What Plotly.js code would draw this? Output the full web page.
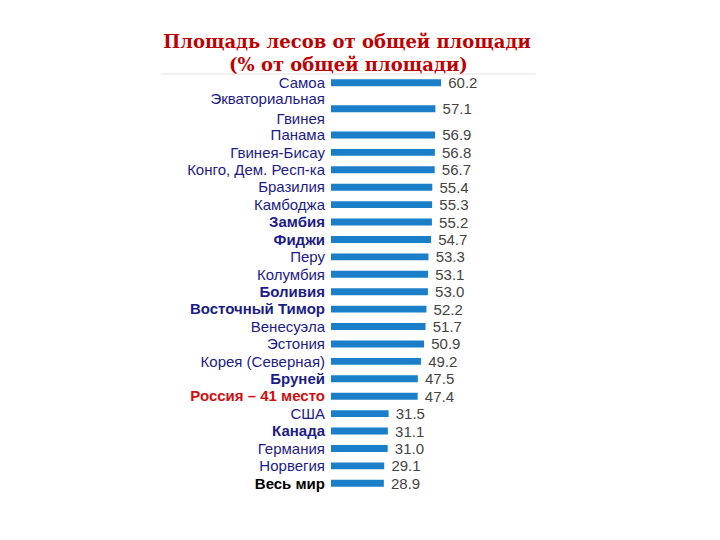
<!DOCTYPE html>
<html><head><meta charset="utf-8">
<script src="https://cdn.plot.ly/plotly-3.0.1.min.js"></script>
<style>html,body{margin:0;padding:0;background:#fff}</style>
</head><body>
<div id="chart" style="width:720px;height:540px"></div>
<script>
const countries = ["Самоа","Экваториальная<br>Гвинея","Панама","Гвинея-Бисау","Конго, Дем. Респ-ка","Бразилия","Камбоджа","Замбия","Фиджи","Перу","Колумбия","Боливия","Восточный Тимор","Венесуэла","Эстония","Корея (Северная)","Бруней","Россия – 41 место","США","Канада","Германия","Норвегия","Весь мир"];
const forestShare = [60.2,57.1,56.9,56.8,56.7,55.4,55.3,55.2,54.7,53.3,53.1,53.0,52.2,51.7,50.9,49.2,47.5,47.4,31.5,31.1,31.0,29.1,28.9];
const boldLabels = ["Замбия","Фиджи","Боливия","Восточный Тимор","Бруней","Канада"];

// row positions: a wrapped (two-line) label takes a little more room
const extraLines = countries.map(c => c.split('<br>').length - 1);
const rowPos = [];
countries.forEach((c, i) => {
  rowPos.push(i === 0 ? 0 : rowPos[i - 1] + 1 + 0.5 * (extraLines[i - 1] + extraLines[i]));
});

const tickText = countries.map(c => {
  if (c.startsWith("Россия")) return '<b><span style="color:#d01010">' + c + '</span></b>';
  if (c === "Весь мир") return '<b><span style="color:#000">' + c + '</span></b>';
  if (boldLabels.includes(c)) return '<b>' + c + '</b>';
  return c;
});

const trace = {
  type: 'bar', orientation: 'h',
  x: forestShare, y: rowPos,
  marker: {color: '#1a7fc8'},
  text: forestShare.map(v => '\u00a0' + v.toFixed(1)),
  textposition: 'outside', cliponaxis: false, constraintext: 'none',
  textfont: {family: 'Liberation Sans, Arial', size: 15, color: '#444'},
  hoverinfo: 'none'
};

const last = rowPos[rowPos.length - 1];
const layout = {
  width: 720, height: 540,
  margin: {l: 331, r: 261, t: 74, b: 48},
  paper_bgcolor: '#fff', plot_bgcolor: '#fff',
  bargap: 0.6,
  showlegend: false,
  title: {
    text: 'Площадь лесов от общей площади',
    x: 0.482, xanchor: 'center', xref: 'container',
    y: 0.922, yanchor: 'middle', yref: 'container',
    font: {family: 'DejaVu Serif', size: 18, color: '#c00000', weight: 'bold'}
  },
  annotations: [{
    text: '(% от общей площади)', xref: 'paper', yref: 'paper',
    x: 0.14, y: 1.022, xanchor: 'center', yanchor: 'middle', showarrow: false,
    font: {family: 'DejaVu Serif', size: 18, color: '#c00000', weight: 'bold'}
  }],
  xaxis: {range: [0, 70], visible: false, fixedrange: true},
  yaxis: {
    range: [last + 0.5, -0.5], type: 'linear',
    tickmode: 'array', tickvals: rowPos, ticktext: tickText,
    ticks: '', showline: false, showgrid: false, zeroline: false,
    ticklabelstandoff: 5,
    tickfont: {family: 'Liberation Sans, Arial', size: 15, color: '#1c1c88'}
  },
  shapes: [{type: 'line', xref: 'paper', yref: 'paper', x0: -1.33, x1: 1.6, y0: 1.0, y1: 1.0,
            line: {color: '#e2e2e2', width: 1}}]
};

Plotly.newPlot('chart', [trace], layout, {displayModeBar: false, staticPlot: true});
</script>
</body></html>
